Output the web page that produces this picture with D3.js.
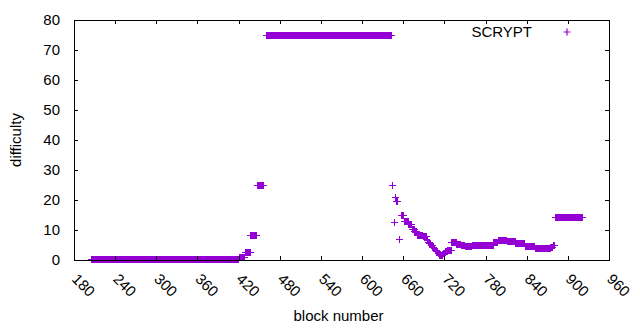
<!DOCTYPE html>
<html>
<head>
<meta charset="utf-8">
<script src="https://cdn.jsdelivr.net/npm/d3@7/dist/d3.min.js"></script>
<style>
  body { margin: 0; background: #fff; }
  text { font-family: "Liberation Sans", Arial, sans-serif; font-size: 15px; fill: #000; }
</style>
</head>
<body>
<div id="chart"></div>
<script>
// chart size
const width = 640,
  height = 330,
  margin = { top: 20, right: 31, bottom: 70, left: 74 };

// data: runs of consecutive blocks that share one difficulty value
const runStart = [205, 411, 421, 430, 438, 447, 461, 645, 647, 648, 650, 655, 657, 662, 668,
  673, 677, 681, 689, 695, 697, 699, 701, 703, 705, 707, 709, 711, 713, 718, 721, 725,
  731, 738, 745, 751, 761, 778, 792, 799, 812, 824, 838, 853, 875, 879, 882];
const runEnd = [410, 420, 429, 437, 446, 456, 643, 645, 647, 649, 652, 655, 660, 667, 672,
  676, 680, 688, 694, 696, 698, 700, 702, 704, 706, 708, 710, 712, 717, 720, 724, 730,
  737, 744, 750, 760, 777, 791, 798, 811, 823, 837, 852, 874, 878, 881, 921];
const runValue = [0.02, 0.33, 1.0, 2.6, 8.2, 24.9, 75, 25.0, 12.6, 21.0, 19.4, 7.0, 14.8, 12.8, 12.0,
  10.2, 9.4, 8.2, 7.8, 6.6, 6.0, 5.5, 4.9, 4.3, 3.7, 3.2, 2.7, 2.2, 1.6, 2.2, 2.8, 3.3,
  6.0, 5.2, 4.8, 4.4, 5.0, 4.7, 5.8, 6.6, 6.2, 5.4, 4.5, 3.7, 4.2, 4.8, 14.2];

const xTickValues = [180, 240, 300, 360, 420, 480, 540, 600, 660, 720, 780, 840, 900, 960];
const yTickValues = [0, 10, 20, 30, 40, 50, 60, 70, 80];
const seriesName = "SCRYPT";
const color = "#9400d3";

// one point per block
let points = [];
runStart.forEach((s, i) => {
  for (let b = s; b <= runEnd[i]; b++) points.push({ block: b, value: runValue[i] });
});

const svg = d3.select("#chart")
  .append("svg")
  .attr("width", width)
  .attr("height", height);

svg.append("rect").attr("width", width).attr("height", height).attr("fill", "#fff");

const x = d3.scaleLinear().domain([180, 960]).range([margin.left, width - margin.right]);
const y = d3.scaleLinear().domain([0, 80]).range([height - margin.bottom, margin.top]);

const plus = "M-3.5,0H3.5M0,-3.5V3.5";

// points, crisp so that neighbouring marks merge into solid bars
svg.append("g")
  .attr("shape-rendering", "crispEdges")
  .selectAll("path.pt")
  .data(points)
  .join("path")
  .attr("class", "pt")
  .attr("d", plus)
  .attr("transform", d => `translate(${x(d.block)},${y(d.value)})`)
  .attr("fill", "none")
  .attr("stroke", color)
  .attr("stroke-width", 1);

// ticks (inward, mirrored)
const tickLen = 4;
const axes = svg.append("g").attr("stroke", "#000").attr("stroke-width", 1);
xTickValues.forEach(v => {
  const px = Math.round(x(v)) + 0.5;
  axes.append("line").attr("x1", px).attr("x2", px).attr("y1", y(0)).attr("y2", y(0) - tickLen);
  axes.append("line").attr("x1", px).attr("x2", px).attr("y1", y(80)).attr("y2", y(80) + tickLen);
});
yTickValues.forEach(v => {
  const py = Math.round(y(v)) + 0.5;
  axes.append("line").attr("x1", x(180)).attr("x2", x(180) + tickLen).attr("y1", py).attr("y2", py);
  axes.append("line").attr("x1", x(960)).attr("x2", x(960) - tickLen).attr("y1", py).attr("y2", py);
});

// border
axes.append("rect")
  .attr("x", x(180) + 0.5)
  .attr("y", y(80) + 0.5)
  .attr("width", x(960) - x(180))
  .attr("height", y(0) - y(80))
  .attr("fill", "none");

// tick labels
svg.append("g")
  .selectAll("text")
  .data(yTickValues)
  .join("text")
  .attr("x", x(180) - 14)
  .attr("y", d => y(d) + 5)
  .attr("text-anchor", "end")
  .text(d => d);

svg.append("g")
  .selectAll("text")
  .data(xTickValues)
  .join("text")
  .attr("transform", d => `translate(${x(d) - 3},${y(0) + 20}) rotate(45)`)
  .attr("text-anchor", "start")
  .text(d => d);

// axis titles
svg.append("text")
  .attr("transform", `translate(21,${(y(0) + y(80)) / 2}) rotate(-90)`)
  .attr("text-anchor", "middle")
  .text("difficulty");

svg.append("text")
  .attr("x", (x(180) + x(960)) / 2 - 3)
  .attr("y", 321)
  .attr("text-anchor", "middle")
  .text("block number");

// key
svg.append("text")
  .attr("x", 532)
  .attr("y", 37)
  .attr("text-anchor", "end")
  .text(seriesName);

svg.append("path")
  .attr("d", plus)
  .attr("transform", "translate(567,32)")
  .attr("fill", "none")
  .attr("stroke", color)
  .attr("stroke-width", 1.2);
</script>
</body>
</html>
